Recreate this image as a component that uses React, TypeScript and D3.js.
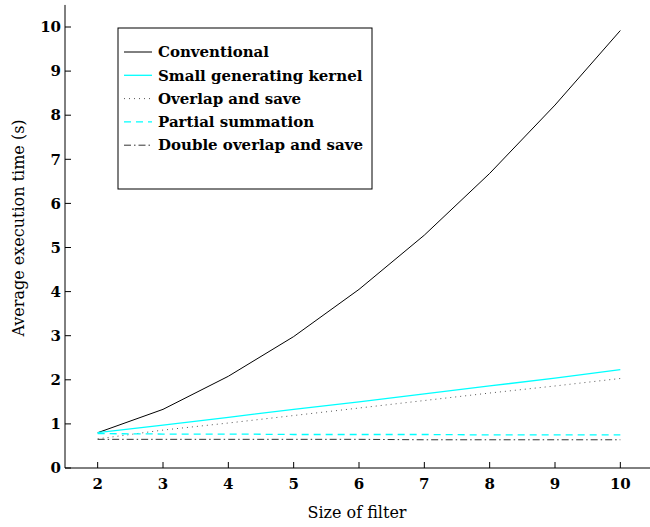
import React from "react";
import * as d3 from "d3";

const filterSizes = [2, 3, 4, 5, 6, 7, 8, 9, 10];
const conventional = [0.8, 1.33, 2.08, 2.98, 4.05, 5.28, 6.68, 8.23, 9.92];
const smallKernel = [0.8, 0.97, 1.15, 1.33, 1.5, 1.68, 1.86, 2.04, 2.23];
const overlapSave = [0.66, 0.86, 1.02, 1.19, 1.36, 1.53, 1.7, 1.86, 2.03];
const partialSum = [0.78, 0.77, 0.77, 0.76, 0.76, 0.76, 0.75, 0.75, 0.75];
const doubleOverlap = [0.65, 0.65, 0.65, 0.65, 0.65, 0.64, 0.64, 0.64, 0.64];
const xTicks = [2, 3, 4, 5, 6, 7, 8, 9, 10];
const yTicks = [0, 1, 2, 3, 4, 5, 6, 7, 8, 9, 10];
const seriesNames = [
  "Conventional",
  "Small generating kernel",
  "Overlap and save",
  "Partial summation",
  "Double overlap and save",
];

const W = 650;
const H = 527;
const FONT = "'DejaVu Serif', serif";

export default function App() {
  const x = d3.scaleLinear().domain([1.5, 10.5]).range([65, 653]);
  const y = d3.scaleLinear().domain([0, 10.5]).range([468, 4.95]);
  const line = d3
    .line<number>()
    .x((_, i) => x(filterSizes[i]))
    .y((d) => y(d));

  const series = [
    { name: seriesNames[0], data: conventional, color: "#000", dash: undefined as string | undefined, w: 1 },
    { name: seriesNames[1], data: smallKernel, color: "#00ffff", dash: undefined, w: 1.3 },
    { name: seriesNames[2], data: overlapSave, color: "#555", dash: "1 4", w: 1 },
    { name: seriesNames[3], data: partialSum, color: "#00ffff", dash: "7 5", w: 1.3 },
    { name: seriesNames[4], data: doubleOverlap, color: "#333", dash: "7 3 1.5 3", w: 1 },
  ];

  const legX = 118;
  const legY = 28;
  const legW = 254;
  const legH = 161;

  return (
    <div style={{ position: "fixed", left: 0, top: 0 }}>
      <svg width={W} height={H} style={{ display: "block", background: "#fff" }}>
        {/* axes */}
        <line x1={65} x2={65} y1={y(10.5)} y2={468} stroke="#000" strokeWidth={1} />
        <line x1={65} x2={650} y1={468} y2={468} stroke="#000" strokeWidth={1} />
        {yTicks.map((t) => (
          <g key={"y" + t}>
            <line x1={65} x2={71} y1={y(t)} y2={y(t)} stroke="#000" />
            <text
              x={61}
              y={y(t)}
              dy="0.35em"
              textAnchor="end"
              fontFamily={FONT}
              fontSize={15}
              fontWeight="bold"
            >
              {t}
            </text>
          </g>
        ))}
        {xTicks.map((t) => (
          <g key={"x" + t}>
            <line x1={x(t)} x2={x(t)} y1={468} y2={462} stroke="#000" />
            <text
              x={x(t)}
              y={489}
              textAnchor="middle"
              fontFamily={FONT}
              fontSize={15}
              fontWeight="bold"
            >
              {t}
            </text>
          </g>
        ))}
        <text
          x={357}
          y={518}
          textAnchor="middle"
          fontFamily={FONT}
          fontSize={16}
        >
          Size of filter
        </text>
        <text
          transform={`translate(24,${228}) rotate(-90)`}
          textAnchor="middle"
          fontFamily={FONT}
          fontSize={16}
        >
          Average execution time (s)
        </text>

        {/* series */}
        {series.map((s) => (
          <path
            key={s.name}
            d={line(s.data) || ""}
            fill="none"
            stroke={s.color}
            strokeWidth={s.w}
            strokeDasharray={s.dash}
          />
        ))}

        {/* legend */}
        <rect x={legX} y={legY} width={legW} height={legH} fill="#fff" stroke="#000" strokeWidth={1} />
        {series.map((s, i) => {
          const ly = legY + 24 + i * 23.3;
          return (
            <g key={"l" + s.name}>
              <line
                x1={124}
                x2={152}
                y1={ly}
                y2={ly}
                stroke={s.color}
                strokeWidth={s.w}
                strokeDasharray={s.dash}
              />
              <text x={158} y={ly} dy="0.35em" fontFamily={FONT} fontSize={15} fontWeight="bold">
                {s.name}
              </text>
            </g>
          );
        })}
      </svg>
    </div>
  );
}
